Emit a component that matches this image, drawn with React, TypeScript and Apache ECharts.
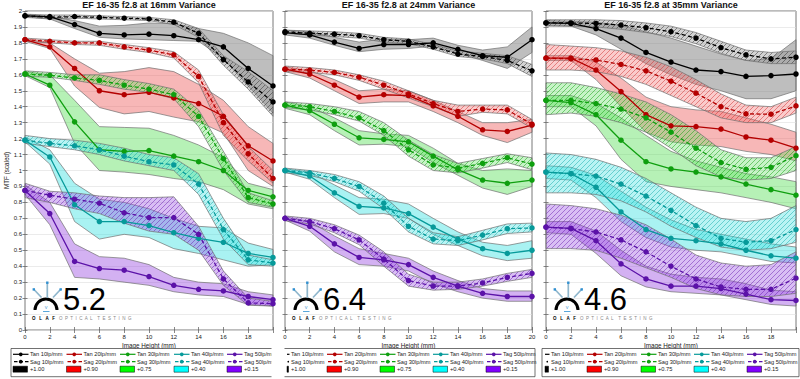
import React, { useEffect, useRef } from 'react';
import * as echarts from 'echarts';

// ---------- data ----------
const imageHeights = [0, 2, 4, 6, 8, 10, 12, 14, 16, 18, 20];
const panelTitles = [
  'EF 16-35 f2.8 at 16mm Variance',
  'EF 16-35 f2.8 at 24mm Variance',
  'EF 16-35 f2.8 at 35mm Variance',
];
const panelScores = ['5.2', '6.4', '4.6'];
const tanLegend = ['Tan 10lp/mm', 'Tan 20lp/mm', 'Tan 30lp/mm', 'Tan 40lp/mm', 'Tag 50lp/mm'];
const sagLegend = ['Sag 10lp/mm', 'Sag 20lp/mm', 'Sag 30lp/mm', 'Sag 40lp/mm', 'Sag 50lp/mm'];
const offsetLabels = ['+1.00', '+0.90', '+0.75', '+0.40', '+0.15'];

// order in each: 10, 20, 30, 40, 50 lp/mm
const tan16 = [
  [1.97, 1.965, 1.915, 1.86, 1.85, 1.855, 1.845, 1.82, 1.775, 1.64, 1.53],
  [1.82, 1.775, 1.64, 1.5, 1.475, 1.49, 1.455, 1.42, 1.34, 1.155, 1.06],
  [1.605, 1.535, 1.305, 1.13, 1.12, 1.125, 1.09, 1.055, 1.0, 0.875, 0.835],
  [1.19, 1.085, 0.785, 0.68, 0.68, 0.655, 0.61, 0.575, 0.55, 0.48, 0.455],
  [0.875, 0.73, 0.43, 0.385, 0.375, 0.335, 0.28, 0.255, 0.245, 0.21, 0.19],
];
const sag16 = [
  [1.97, 1.96, 1.965, 1.96, 1.955, 1.95, 1.93, 1.86, 1.695, 1.555, 1.43],
  [1.82, 1.81, 1.8, 1.8, 1.775, 1.755, 1.725, 1.59, 1.3, 1.105, 0.95],
  [1.605, 1.597, 1.58, 1.565, 1.535, 1.51, 1.475, 1.34, 1.075, 0.83, 0.79],
  [1.19, 1.17, 1.155, 1.13, 1.09, 1.055, 1.035, 0.915, 0.63, 0.44, 0.42],
  [0.875, 0.845, 0.82, 0.795, 0.735, 0.705, 0.705, 0.6, 0.32, 0.17, 0.165],
];
const tanHi16 = [
  [1.98, 1.965, 1.94, 1.905, 1.91, 1.925, 1.92, 1.89, 1.86, 1.8, 1.72],
  [1.825, 1.8, 1.7, 1.61, 1.62, 1.645, 1.62, 1.54, 1.44, 1.275, 1.17],
  [1.62, 1.6, 1.44, 1.275, 1.27, 1.265, 1.22, 1.16, 1.08, 0.92, 0.88],
  [1.21, 1.13, 0.92, 0.82, 0.8, 0.76, 0.7, 0.65, 0.64, 0.545, 0.505],
  [0.91, 0.8, 0.54, 0.46, 0.45, 0.41, 0.33, 0.3, 0.29, 0.24, 0.22],
];
const tanLo16 = [
  [1.965, 1.95, 1.89, 1.835, 1.825, 1.82, 1.815, 1.81, 1.7, 1.53, 1.36],
  [1.81, 1.765, 1.53, 1.395, 1.355, 1.37, 1.335, 1.305, 1.235, 1.0, 0.9],
  [1.595, 1.52, 1.17, 1.0, 0.99, 0.975, 0.95, 0.93, 0.88, 0.79, 0.76],
  [1.18, 1.04, 0.68, 0.57, 0.6, 0.58, 0.51, 0.48, 0.44, 0.4, 0.41],
  [0.85, 0.66, 0.33, 0.32, 0.3, 0.28, 0.24, 0.22, 0.21, 0.16, 0.15],
];
const sagHi16 = [
  [1.98, 1.975, 1.975, 1.97, 1.965, 1.96, 1.945, 1.89, 1.72, 1.62, 1.5],
  [1.83, 1.82, 1.81, 1.81, 1.79, 1.77, 1.745, 1.63, 1.35, 1.15, 1.0],
  [1.625, 1.615, 1.6, 1.6, 1.57, 1.545, 1.51, 1.38, 1.12, 0.86, 0.81],
  [1.22, 1.2, 1.19, 1.17, 1.14, 1.1, 1.08, 0.98, 0.7, 0.47, 0.44],
  [0.92, 0.87, 0.86, 0.84, 0.83, 0.83, 0.835, 0.65, 0.37, 0.2, 0.18],
];
const sagLo16 = [
  [1.96, 1.95, 1.955, 1.95, 1.945, 1.94, 1.915, 1.835, 1.66, 1.51, 1.34],
  [1.81, 1.8, 1.79, 1.785, 1.76, 1.74, 1.705, 1.55, 1.22, 1.06, 0.92],
  [1.59, 1.585, 1.565, 1.54, 1.51, 1.49, 1.45, 1.275, 1.0, 0.8, 0.77],
  [1.17, 1.15, 1.13, 1.1, 1.06, 1.03, 1.0, 0.85, 0.57, 0.41, 0.4],
  [0.83, 0.8, 0.76, 0.73, 0.67, 0.62, 0.6, 0.5, 0.28, 0.155, 0.15],
];

const tan24 = [
  [1.865, 1.85, 1.805, 1.765, 1.79, 1.79, 1.8, 1.76, 1.72, 1.71, 1.82],
  [1.635, 1.605, 1.535, 1.46, 1.475, 1.47, 1.405, 1.34, 1.255, 1.245, 1.285],
  [1.41, 1.375, 1.29, 1.205, 1.195, 1.18, 1.09, 1.005, 0.94, 0.92, 0.94],
  [1.0, 0.965, 0.86, 0.775, 0.765, 0.73, 0.645, 0.57, 0.51, 0.48, 0.5],
  [0.7, 0.65, 0.54, 0.455, 0.44, 0.41, 0.33, 0.275, 0.23, 0.21, 0.21],
];
const sag24 = [
  [1.87, 1.86, 1.855, 1.845, 1.82, 1.81, 1.775, 1.73, 1.715, 1.69, 1.625],
  [1.635, 1.63, 1.615, 1.585, 1.535, 1.48, 1.42, 1.37, 1.385, 1.38, 1.29],
  [1.41, 1.4, 1.37, 1.33, 1.25, 1.13, 1.035, 1.015, 1.045, 1.08, 1.04],
  [1.0, 0.985, 0.95, 0.9, 0.795, 0.65, 0.57, 0.56, 0.595, 0.635, 0.64],
  [0.7, 0.68, 0.635, 0.565, 0.445, 0.31, 0.275, 0.275, 0.295, 0.33, 0.355],
];
const tanHi24 = [
  [1.88, 1.87, 1.835, 1.805, 1.825, 1.82, 1.83, 1.785, 1.755, 1.775, 1.9],
  [1.65, 1.625, 1.57, 1.5, 1.51, 1.5, 1.44, 1.37, 1.3, 1.3, 1.32],
  [1.43, 1.4, 1.33, 1.25, 1.23, 1.22, 1.14, 1.045, 1.0, 1.01, 1.0],
  [1.01, 0.99, 0.91, 0.83, 0.82, 0.79, 0.7, 0.615, 0.55, 0.53, 0.56],
  [0.71, 0.68, 0.59, 0.51, 0.48, 0.45, 0.37, 0.31, 0.26, 0.245, 0.245],
];
const tanLo24 = [
  [1.85, 1.83, 1.785, 1.745, 1.76, 1.765, 1.78, 1.735, 1.69, 1.64, 1.74],
  [1.62, 1.58, 1.5, 1.42, 1.43, 1.43, 1.37, 1.3, 1.22, 1.175, 1.24],
  [1.39, 1.35, 1.25, 1.16, 1.165, 1.15, 1.05, 0.97, 0.89, 0.85, 0.9],
  [0.99, 0.945, 0.83, 0.725, 0.73, 0.7, 0.6, 0.53, 0.465, 0.435, 0.45],
  [0.69, 0.62, 0.49, 0.41, 0.4, 0.37, 0.29, 0.24, 0.2, 0.18, 0.18],
];
const sagHi24 = [
  [1.88, 1.875, 1.87, 1.86, 1.835, 1.825, 1.79, 1.75, 1.735, 1.72, 1.665],
  [1.655, 1.645, 1.63, 1.6, 1.56, 1.5, 1.44, 1.41, 1.41, 1.41, 1.32],
  [1.43, 1.42, 1.4, 1.37, 1.3, 1.19, 1.1, 1.045, 1.075, 1.105, 1.08],
  [1.015, 1.0, 0.975, 0.93, 0.84, 0.7, 0.61, 0.585, 0.625, 0.665, 0.67],
  [0.715, 0.7, 0.66, 0.595, 0.49, 0.35, 0.3, 0.3, 0.32, 0.355, 0.38],
];
const sagLo24 = [
  [1.86, 1.85, 1.84, 1.83, 1.805, 1.795, 1.76, 1.715, 1.7, 1.67, 1.59],
  [1.62, 1.615, 1.6, 1.565, 1.51, 1.455, 1.4, 1.34, 1.365, 1.355, 1.265],
  [1.395, 1.38, 1.35, 1.31, 1.22, 1.09, 1.0, 0.985, 1.015, 1.05, 1.005],
  [0.985, 0.97, 0.93, 0.87, 0.76, 0.615, 0.54, 0.53, 0.565, 0.605, 0.615],
  [0.685, 0.665, 0.61, 0.535, 0.4, 0.275, 0.25, 0.255, 0.275, 0.305, 0.33],
];

const tan35 = [
  [1.925, 1.922, 1.89, 1.83, 1.74, 1.68, 1.63, 1.62, 1.59, 1.595, 1.605],
  [1.705, 1.705, 1.63, 1.495, 1.35, 1.28, 1.275, 1.26, 1.21, 1.19, 1.14],
  [1.44, 1.425, 1.35, 1.19, 1.055, 1.01, 0.99, 0.96, 0.915, 0.88, 0.845],
  [0.99, 0.98, 0.895, 0.74, 0.63, 0.575, 0.56, 0.54, 0.5, 0.465, 0.45],
  [0.645, 0.637, 0.56, 0.415, 0.32, 0.275, 0.275, 0.26, 0.225, 0.19, 0.185],
];
const sag35 = [
  [1.925, 1.925, 1.922, 1.912, 1.895, 1.87, 1.83, 1.77, 1.725, 1.7, 1.71],
  [1.705, 1.7, 1.693, 1.665, 1.625, 1.56, 1.485, 1.4, 1.355, 1.353, 1.405],
  [1.44, 1.44, 1.42, 1.385, 1.33, 1.24, 1.14, 1.05, 1.007, 1.02, 1.093],
  [0.99, 0.98, 0.965, 0.915, 0.84, 0.75, 0.655, 0.575, 0.55, 0.56, 0.63],
  [0.645, 0.635, 0.615, 0.565, 0.49, 0.4, 0.32, 0.27, 0.255, 0.255, 0.325],
];
const tanHi35 = [
  [1.94, 1.935, 1.93, 1.91, 1.87, 1.83, 1.78, 1.73, 1.69, 1.7, 1.82],
  [1.72, 1.72, 1.68, 1.58, 1.46, 1.4, 1.38, 1.37, 1.33, 1.29, 1.24],
  [1.47, 1.47, 1.42, 1.33, 1.22, 1.12, 1.06, 1.02, 0.98, 0.96, 0.93],
  [1.03, 1.02, 0.97, 0.87, 0.77, 0.69, 0.63, 0.6, 0.57, 0.54, 0.52],
  [0.68, 0.68, 0.62, 0.5, 0.4, 0.35, 0.33, 0.32, 0.29, 0.25, 0.24],
];
const tanLo35 = [
  [1.91, 1.905, 1.85, 1.76, 1.67, 1.6, 1.54, 1.5, 1.45, 1.45, 1.5],
  [1.69, 1.69, 1.57, 1.4, 1.24, 1.18, 1.16, 1.15, 1.12, 1.1, 1.06],
  [1.4, 1.4, 1.28, 1.07, 0.93, 0.9, 0.88, 0.86, 0.83, 0.8, 0.76],
  [0.95, 0.94, 0.83, 0.68, 0.58, 0.52, 0.5, 0.49, 0.46, 0.43, 0.42],
  [0.61, 0.6, 0.48, 0.34, 0.27, 0.24, 0.23, 0.22, 0.19, 0.16, 0.15],
];
const sagHi35 = [
  [1.945, 1.945, 1.945, 1.94, 1.925, 1.905, 1.865, 1.81, 1.755, 1.74, 1.75],
  [1.79, 1.78, 1.77, 1.75, 1.71, 1.65, 1.57, 1.48, 1.41, 1.4, 1.46],
  [1.55, 1.55, 1.52, 1.48, 1.43, 1.35, 1.25, 1.13, 1.08, 1.08, 1.15],
  [1.11, 1.1, 1.07, 1.02, 0.95, 0.86, 0.77, 0.7, 0.68, 0.7, 0.78],
  [0.79, 0.78, 0.76, 0.72, 0.66, 0.57, 0.47, 0.42, 0.4, 0.41, 0.49],
];
const sagLo35 = [
  [1.905, 1.905, 1.9, 1.885, 1.865, 1.84, 1.795, 1.735, 1.69, 1.67, 1.67],
  [1.63, 1.63, 1.62, 1.59, 1.54, 1.47, 1.4, 1.33, 1.3, 1.3, 1.36],
  [1.35, 1.36, 1.34, 1.3, 1.24, 1.14, 1.03, 0.96, 0.94, 0.95, 1.0],
  [0.86, 0.86, 0.85, 0.81, 0.74, 0.65, 0.58, 0.52, 0.5, 0.51, 0.55],
  [0.51, 0.51, 0.5, 0.45, 0.39, 0.33, 0.26, 0.22, 0.21, 0.21, 0.23],
];

const panelData = [
  { tan: tan16, sag: sag16, tanHi: tanHi16, tanLo: tanLo16, sagHi: sagHi16, sagLo: sagLo16 },
  { tan: tan24, sag: sag24, tanHi: tanHi24, tanLo: tanLo24, sagHi: sagHi24, sagLo: sagLo24 },
  { tan: tan35, sag: sag35, tanHi: tanHi35, tanLo: tanLo35, sagHi: sagHi35, sagLo: sagLo35 },
];

// ---------- styles / layout ----------
const FONT = '"Liberation Sans", Arial, Helvetica, sans-serif';
const LINE_COLORS = ['#000000', '#b40000', '#0f9f0f', '#079a9a', '#5b12a8'];
const TAN_FILL = [
  'rgba(125,125,125,0.5)',
  'rgba(238,95,95,0.45)',
  'rgba(80,222,80,0.42)',
  'rgba(40,222,222,0.4)',
  'rgba(150,70,225,0.42)',
];
const SAG_BASE = [
  'rgba(150,150,150,0.42)',
  'rgba(240,110,110,0.36)',
  'rgba(100,225,100,0.36)',
  'rgba(60,225,225,0.36)',
  'rgba(155,85,225,0.38)',
];
const SAG_STRIPE = [
  'rgba(40,40,40,0.55)',
  'rgba(205,30,30,0.5)',
  'rgba(0,150,0,0.5)',
  'rgba(0,165,165,0.5)',
  'rgba(95,15,170,0.5)',
];
const SWATCH = ['#000000', '#ff0000', '#00ff00', '#00ffff', '#8000ff'];

const PLOT_TOP = 11;
const PLOT_H = 319;
const layout = [
  { left: 25, width: 248, boxL: 11, boxR: 276, sampleMin: 13, textX: [30, 83.5, 137, 191, 244] },
  { left: 285, width: 247, boxL: 282, boxR: 535, sampleMin: 287, textX: [291, 344, 397, 450, 503] },
  { left: 546, width: 250, boxL: 542, boxR: 799, sampleMin: 545, textX: [551, 604, 658, 711, 764] },
];

function makeHatch(base: string, stripe: string) {
  const cv = document.createElement('canvas');
  const s = 5;
  cv.width = s;
  cv.height = s;
  const ctx = cv.getContext('2d')!;
  ctx.fillStyle = base;
  ctx.fillRect(0, 0, s, s);
  ctx.strokeStyle = stripe;
  ctx.lineWidth = 0.9;
  ctx.beginPath();
  ctx.moveTo(-1, s + 1);
  ctx.lineTo(s + 1, -1);
  ctx.moveTo(-1, 1);
  ctx.lineTo(1, -1);
  ctx.moveTo(s - 1, s + 1);
  ctx.lineTo(s + 1, s - 1);
  ctx.stroke();
  return { image: cv, repeat: 'repeat' };
}

function bandSeries(gi: number, lo: number[], hi: number[], fill: any) {
  return {
    type: 'custom',
    xAxisIndex: gi * 2,
    yAxisIndex: gi * 2,
    silent: true,
    z: 1,
    data: imageHeights.map((x, i) => [x, lo[i], hi[i]]),
    encode: { x: 0, y: [1, 2] },
    renderItem: (params: any, api: any) => {
      if (params.dataIndex !== 0) return null;
      const upper = imageHeights.map((x, i) => api.coord([x, hi[i]]));
      const lower = imageHeights.map((x, i) => api.coord([x, lo[i]])).reverse();
      return {
        type: 'polygon',
        shape: { points: upper.concat(lower) },
        style: { fill, stroke: '#707070', lineWidth: 0.7 },
      };
    },
  };
}

function buildOption() {
  const grid: any[] = [];
  const xAxis: any[] = [];
  const yAxis: any[] = [];
  const series: any[] = [];
  const graphic: any[] = [];
  const hatches = SAG_BASE.map((b, i) => makeHatch(b, SAG_STRIPE[i]));

  layout.forEach((L, gi) => {
    grid.push({
      left: L.left,
      top: PLOT_TOP,
      width: L.width,
      height: PLOT_H,
      show: true,
      borderColor: '#555',
      borderWidth: 0.8,
      backgroundColor: 'transparent',
    });
    const tick = { show: true, inside: true, length: 3, lineStyle: { color: '#555', width: 0.7 } };
    xAxis.push({
      type: 'value',
      gridIndex: gi,
      min: 0,
      max: 20,
      interval: 2,
      position: 'bottom',
      axisLine: { show: false },
      axisTick: tick,
      splitLine: { show: false },
      axisLabel: {
        fontSize: 6,
        color: '#222',
        margin: 3.5,
        fontFamily: FONT,
        formatter: (v: number) => (gi !== 1 && v === 20 ? '' : String(v)),
      },
      name: 'Image Height (mm)',
      nameLocation: 'middle',
      nameGap: 12,
      nameMoveOverlap: false,
      nameTextStyle: { fontSize: 6.3, color: '#222', fontFamily: FONT, verticalAlign: 'top' },
    });
    xAxis.push({
      type: 'value',
      gridIndex: gi,
      min: 0,
      max: 20,
      interval: 2,
      position: 'top',
      axisLine: { show: false },
      axisTick: tick,
      axisLabel: { show: false },
      splitLine: { show: false },
    });
    yAxis.push({
      type: 'value',
      gridIndex: gi,
      min: 0,
      max: 2,
      interval: 0.1,
      position: 'left',
      axisLine: { show: false },
      axisTick: { ...tick, length: 2.5 },
      axisLabel: { show: gi === 0, fontSize: 6, color: '#222', margin: 3, fontFamily: FONT },
      splitLine: { show: true, lineStyle: { color: '#dedede', width: 0.6 } },
      name: gi === 0 ? 'MTF (scaled)' : '',
      nameLocation: 'middle',
      nameGap: 14,
      nameTextStyle: { fontSize: 6.3, color: '#222', fontFamily: FONT },
    });
    yAxis.push({
      type: 'value',
      gridIndex: gi,
      min: 0,
      max: 2,
      interval: 0.1,
      position: 'right',
      axisLine: { show: false },
      axisTick: { ...tick, length: 2.5 },
      axisLabel: { show: false },
      splitLine: { show: false },
    });

    const P = panelData[gi];
    for (let c = 0; c < 5; c++) {
      series.push(bandSeries(gi, P.tanLo[c], P.tanHi[c], TAN_FILL[c]));
      series.push(bandSeries(gi, P.sagLo[c], P.sagHi[c], hatches[c]));
    }
  });

  // lines on top
  layout.forEach((L, gi) => {
    const P = panelData[gi];
    for (let c = 0; c < 5; c++) {
      series.push({
        type: 'line',
        name: `${panelTitles[gi]} ${tanLegend[c]}`,
        xAxisIndex: gi * 2,
        yAxisIndex: gi * 2,
        data: imageHeights.map((x, i) => [x, P.tan[c][i]]),
        symbol: 'circle',
        symbolSize: 5.5,
        z: 3,
        lineStyle: { color: LINE_COLORS[c], width: 1.3 },
        itemStyle: { color: LINE_COLORS[c] },
      });
      series.push({
        type: 'line',
        name: `${panelTitles[gi]} ${sagLegend[c]}`,
        xAxisIndex: gi * 2,
        yAxisIndex: gi * 2,
        data: imageHeights.map((x, i) => [x, P.sag[c][i]]),
        symbol: 'circle',
        symbolSize: 5.5,
        z: 3,
        lineStyle: { color: LINE_COLORS[c], width: 1.3, type: [4, 2.5] },
        itemStyle: { color: LINE_COLORS[c] },
      });
    }

    // title
    graphic.push({
      type: 'text',
      x: L.left + L.width / 2,
      y: 0,
      z: 50,
      style: {
        text: panelTitles[gi],
        textAlign: 'center',
        textVerticalAlign: 'top',
        fontSize: 9,
        fontWeight: 'bold',
        fontFamily: FONT,
        fill: '#111',
      },
    });

    // logo
    const a = L.left;
    const stick = '#8fb6cc';
    const tip = '#2f8fd0';
    graphic.push(
      { type: 'arc', z: 40, shape: { cx: a + 21, cy: 310, r: 11, startAngle: Math.PI, endAngle: Math.PI * 2 }, style: { stroke: '#000', lineWidth: 3, fill: 'none' } },
      { type: 'line', z: 40, shape: { x1: a + 22.3, y1: 283, x2: a + 22.3, y2: 298 }, style: { stroke: stick, lineWidth: 1.7 } },
      { type: 'line', z: 40, shape: { x1: a + 9, y1: 289.5, x2: a + 16.5, y2: 297.5 }, style: { stroke: stick, lineWidth: 1.7 } },
      { type: 'line', z: 40, shape: { x1: a + 35.5, y1: 289.5, x2: a + 28, y2: 297.5 }, style: { stroke: stick, lineWidth: 1.7 } },
      { type: 'rect', z: 41, shape: { x: a + 21.1, y: 281.5, width: 2.4, height: 2.4 }, style: { fill: tip } },
      { type: 'rect', z: 41, shape: { x: a + 7.6, y: 288.2, width: 2.4, height: 2.4 }, style: { fill: tip } },
      { type: 'rect', z: 41, shape: { x: a + 34.5, y: 288.2, width: 2.4, height: 2.4 }, style: { fill: tip } },
      { type: 'text', z: 41, x: a + 21, y: 307.5, style: { text: 'V', fontSize: 4, fill: tip, textAlign: 'center', textVerticalAlign: 'middle', fontFamily: FONT } },
      { type: 'line', z: 41, shape: { x1: a + 18, y1: 311.5, x2: a + 24.5, y2: 311.5 }, style: { stroke: tip, lineWidth: 0.8 } },
      { type: 'text', z: 41, x: a + 38, y: 299, style: { text: panelScores[gi], fontSize: 31, fill: '#000', textVerticalAlign: 'middle', fontFamily: FONT } },
      { type: 'text', z: 41, x: a + 7, y: 318.3, style: { text: 'O   L   A   F', fontSize: 4.5, fontWeight: 'bold', fill: '#000', textVerticalAlign: 'middle', fontFamily: FONT } },
      { type: 'text', z: 41, x: a + 34, y: 318.3, style: { text: 'O  P  T  I  C  A  L    T  E  S  T  I  N  G', fontSize: 4.5, fill: '#888', textVerticalAlign: 'middle', fontFamily: FONT } }
    );

    // legend box
    graphic.push({
      type: 'rect',
      z: 30,
      shape: { x: L.boxL, y: 348.5, width: L.boxR - L.boxL, height: 28.2 },
      style: { fill: '#fff', stroke: '#333', lineWidth: 0.7 },
    });
    const rows = [354.3, 361.7, 369.2];
    for (let c = 0; c < 5; c++) {
      const tx = L.textX[c];
      const x0 = Math.max(tx - 17, L.sampleMin);
      const x1 = tx - 1.5;
      const xm = (x0 + x1) / 2;
      const wide = x1 - x0 > 8;
      const col = LINE_COLORS[c];
      graphic.push({ type: 'line', z: 31, shape: { x1: x0, y1: rows[0], x2: x1, y2: rows[0] }, style: { stroke: col, lineWidth: 1.2 } });
      if (wide) graphic.push({ type: 'circle', z: 32, shape: { cx: xm, cy: rows[0], r: 1.9 }, style: { fill: col } });
      graphic.push({ type: 'text', z: 32, x: tx, y: rows[0], style: { text: tanLegend[c], fontSize: 5.7, fill: '#222', textVerticalAlign: 'middle', fontFamily: FONT } });
      if (wide) {
        graphic.push({ type: 'line', z: 31, shape: { x1: x0 + 1, y1: rows[1], x2: x1, y2: rows[1] }, style: { stroke: col, lineWidth: 1.2, lineDash: [3.5, 2] } });
        graphic.push({ type: 'circle', z: 32, shape: { cx: xm, cy: rows[1], r: 1.9 }, style: { fill: col } });
      } else {
        graphic.push({ type: 'circle', z: 32, shape: { cx: (x0 + x1) / 2, cy: rows[1], r: 0.8 }, style: { fill: col } });
      }
      graphic.push({ type: 'text', z: 32, x: tx, y: rows[1], style: { text: sagLegend[c], fontSize: 5.7, fill: '#222', textVerticalAlign: 'middle', fontFamily: FONT } });
      graphic.push({ type: 'rect', z: 31, shape: { x: x0, y: rows[2] - 3, width: Math.max(1.5, x1 - x0 - 1), height: 6 }, style: { fill: SWATCH[c], stroke: '#000', lineWidth: 0.5 } });
      graphic.push({ type: 'text', z: 32, x: tx, y: rows[2], style: { text: offsetLabels[c], fontSize: 5.7, fill: '#222', textVerticalAlign: 'middle', fontFamily: FONT } });
    }
  });

  graphic.push({ type: 'rect', z: 60, shape: { x: 271.5, y: 347.5, width: 13, height: 32 }, style: { fill: '#fff' } });

  return {
    animation: false,
    backgroundColor: '#ffffff',
    textStyle: { fontFamily: FONT },
    grid,
    xAxis,
    yAxis,
    series,
    graphic,
  };
}

export default function App() {
  const ref = useRef<HTMLDivElement>(null);
  useEffect(() => {
    const el = ref.current!;
    const chart = echarts.init(el, null, { renderer: 'svg' });
    chart.setOption(buildOption() as any);
    return () => chart.dispose();
  }, []);
  return (
    <div
      ref={ref}
      style={{ position: 'absolute', left: 0, top: 0, width: 800, height: 379, background: '#fff' }}
    />
  );
}
